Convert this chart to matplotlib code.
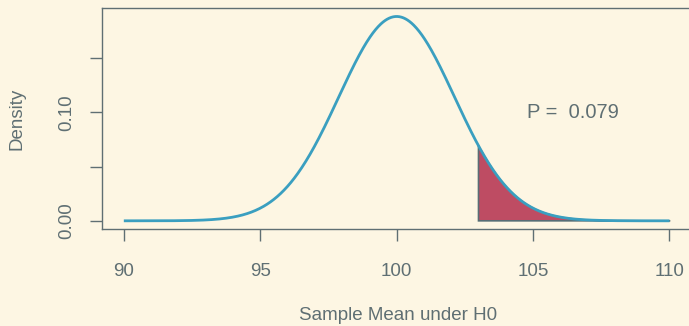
import numpy as np
import matplotlib
matplotlib.use("Agg")
import matplotlib.pyplot as plt

# Data
null_mean = 100.0
null_sd = 2.12
x_from, x_to = 90, 110
cutoff = 103
p_label = "P =  0.079"
x_ticks = [90, 95, 100, 105, 110]
y_ticks = [0.00, 0.05, 0.10, 0.15]
y_ticklabels = ["0.00", "", "0.10", ""]

bg = "#FDF6E3"
fg = "#5F6F73"
curve_col = "#3A9FC0"
fill_col = "#BE4C63"

plt.rcParams['font.family'] = ['Liberation Sans', 'DejaVu Sans']

fig = plt.figure(figsize=(6.89, 3.26), dpi=100, facecolor=bg)
ax = fig.add_axes([102/689, 1-229/326, 589.3/689, 220.7/326])
ax.set_facecolor(bg)

xs = np.linspace(x_from, x_to, 801)
dens = np.exp(-0.5*((xs-null_mean)/null_sd)**2)/(null_sd*np.sqrt(2*np.pi))

xt = xs[xs >= cutoff]
yt = dens[xs >= cutoff]
poly_x = np.concatenate([[cutoff], xt, [x_to, cutoff]])
poly_y = np.concatenate([[0], yt, [0, 0]])
ax.fill(poly_x, poly_y, facecolor=fill_col, edgecolor="#586E75", linewidth=1.2, zorder=2)
ax.plot(xs, dens, color=curve_col, linewidth=2.0, zorder=3, solid_capstyle='butt')

ymax = dens.max()
ax.set_xlim(x_from - 0.04*(x_to-x_from), x_to + 0.04*(x_to-x_from))
ax.set_ylim(-0.04*ymax, ymax*1.04)

ax.text(106.45, 0.0997, p_label, color=fg, fontsize=14.5, ha='center', va='center')

ax.set_xticks(x_ticks)
ax.set_xticklabels([str(t) for t in x_ticks])
ax.set_yticks(y_ticks)
ax.set_yticklabels(y_ticklabels, rotation=90, va='center')
ax.tick_params(axis='both', colors=fg, labelcolor=fg, labelsize=13.5, length=8.6, width=1.0)
ax.tick_params(axis='x', pad=16)
ax.tick_params(axis='y', pad=11)
for s in ax.spines.values():
    s.set_color(fg)
    s.set_linewidth(1.0)

ax.set_xlabel("Sample Mean under H0", color=fg, fontsize=13.5)
ax.xaxis.set_label_coords((398-102)/589.3, (229-316)/220.7)
ax.xaxis.label.set_va('center')
ax.set_ylabel("Density", color=fg, fontsize=13.5)
ax.yaxis.set_label_coords((17-102)/589.3, 0.5)
ax.yaxis.label.set_va('center')

fig.savefig("out.png", dpi=100, facecolor=bg)
